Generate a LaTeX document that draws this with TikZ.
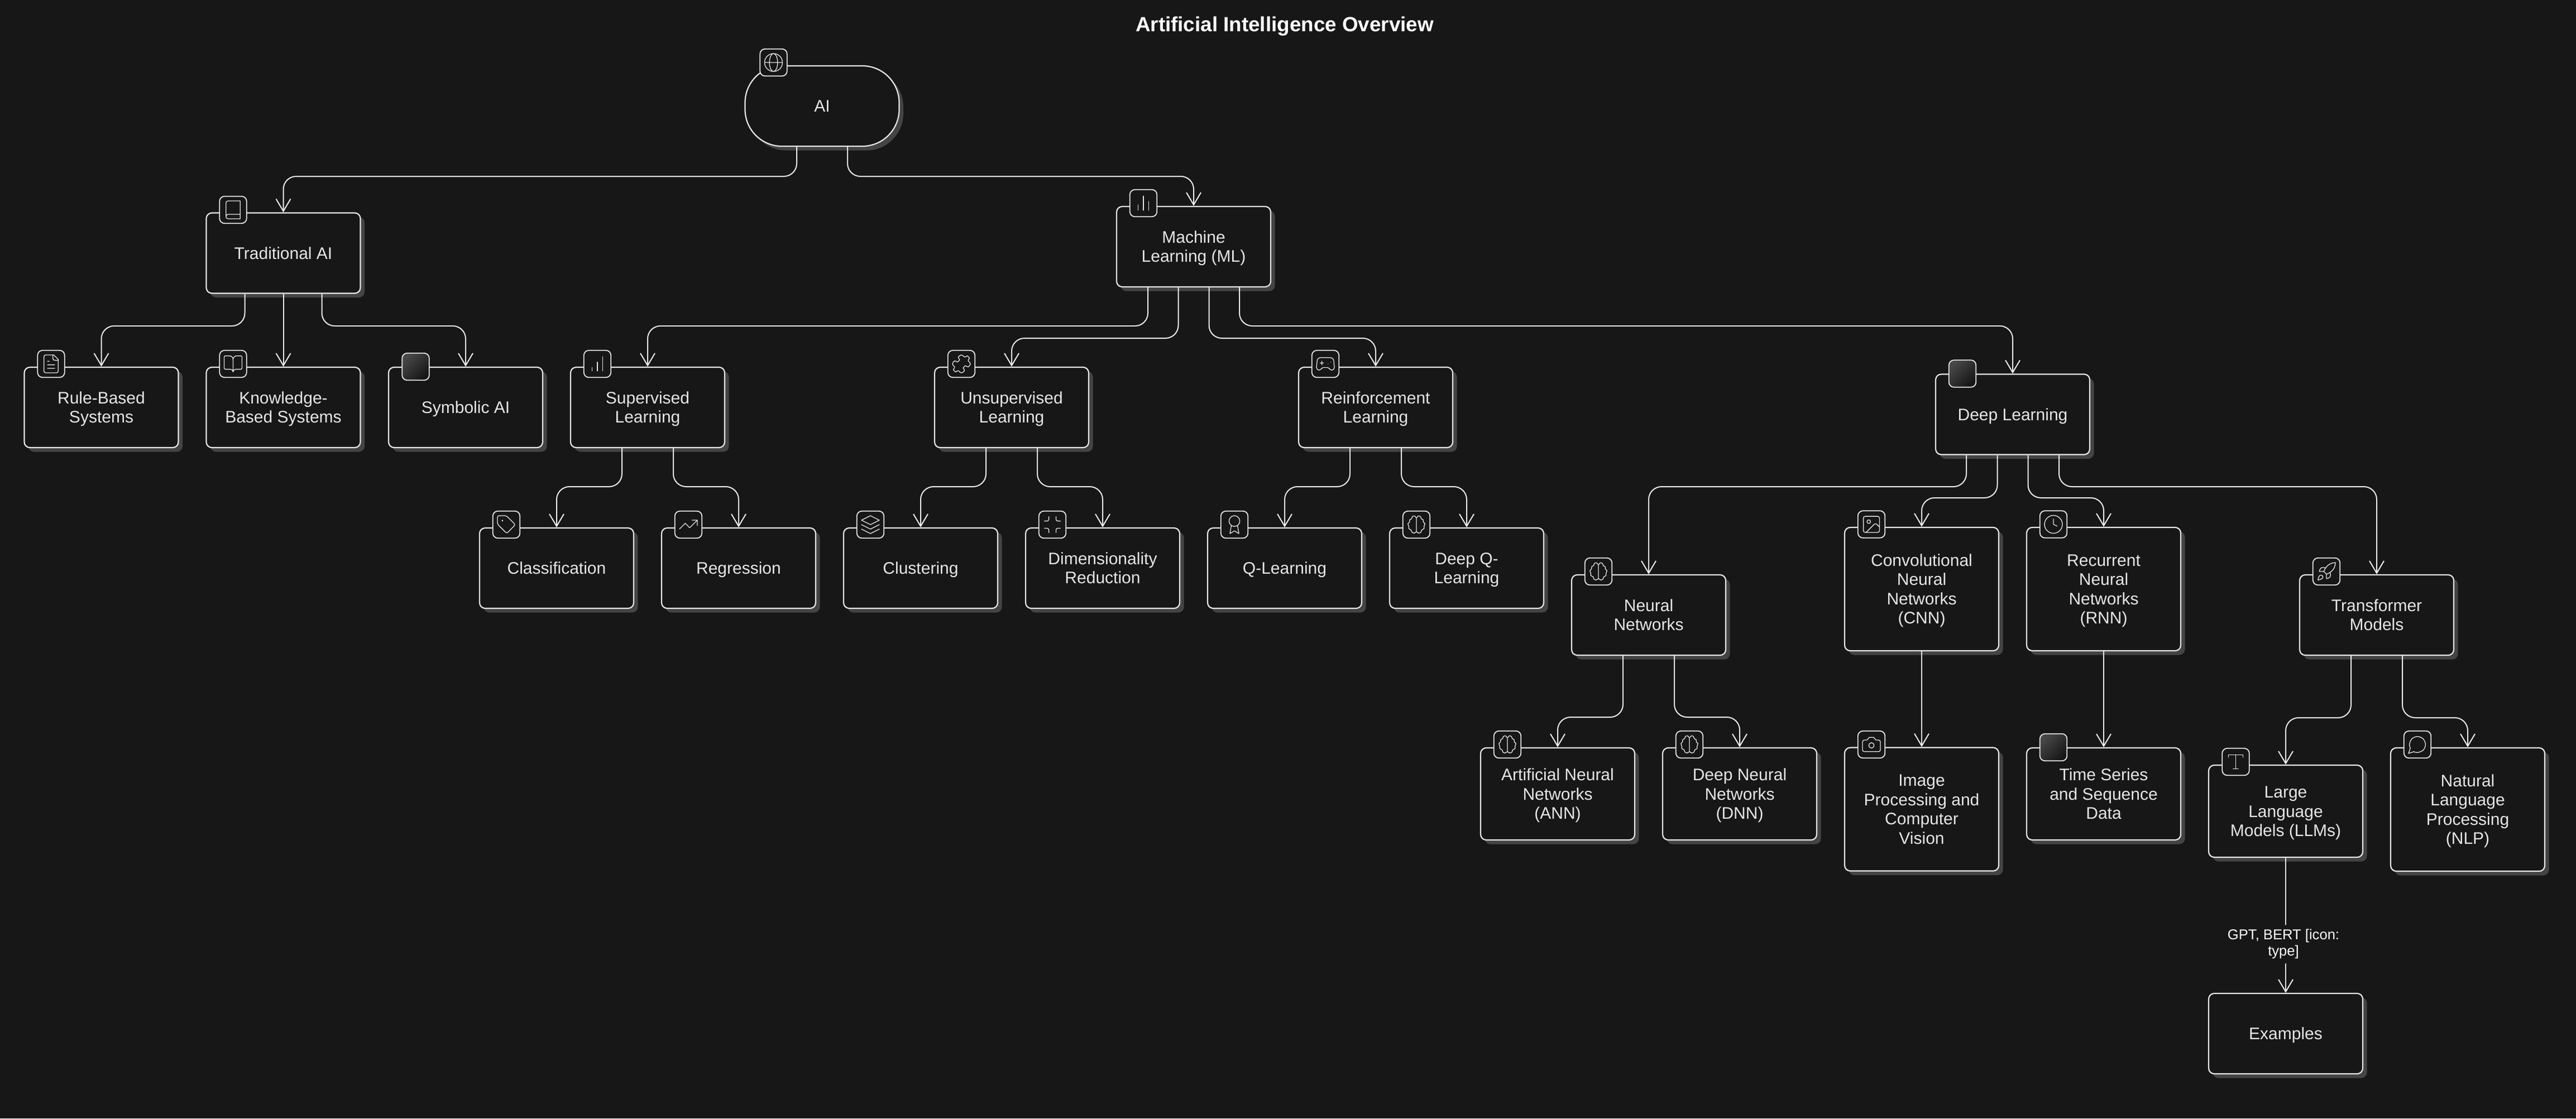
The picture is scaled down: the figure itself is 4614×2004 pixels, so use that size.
\documentclass[tikz,border=0pt]{standalone}
\usepackage{fontspec}
\setmainfont{Liberation Sans}
\usetikzlibrary{arrows.meta,shadows}
\definecolor{bgdark}{HTML}{171717}
\definecolor{ink}{HTML}{E6E6E6}
\definecolor{shade}{HTML}{444444}
\definecolor{phi}{HTML}{484848}
\definecolor{plo}{HTML}{161616}
\tikzset{
  box/.style={draw=ink,fill=bgdark,line width=1.1pt,rounded corners=5pt,text=ink,
    minimum width=138pt,minimum height=72pt,inner sep=0pt,align=center,
    font=\fontsize{15}{17.2}\selectfont,
    execute at begin node={\rule{0pt}{15pt}},
    execute at end node={\rule[-4.5pt]{0pt}{4.5pt}},
    drop shadow={shadow xshift=3.75pt,shadow yshift=-3.75pt,fill=shade,opacity=1}},
  boxM/.style={box,minimum height=82.5pt},
  boxL/.style={box,minimum height=110.5pt},
  boxAI/.style={box,rounded corners=33pt},
  iconb/.style={draw=ink,fill=bgdark,line width=.9pt,rounded corners=4.5pt,minimum size=24.25pt,inner sep=0pt},
  iconblank/.style={iconb,top color=phi,bottom color=plo,shading angle=45},
  link/.style={draw=white!92!black,line width=1pt,rounded corners=11.5pt,-{Straight Barb[length=11pt,width=13pt]}},
  lbl/.style={fill=bgdark,text=white,align=center,inner xsep=2pt,inner ysep=4pt,font=\fontsize{12.8}{14.5}\selectfont},
  titletext/.style={text=white,font=\fontsize{18.4}{20}\selectfont\bfseries},
  glyph/.style={x=.8pt,y=-.8pt,shift={(-12,-12)},draw=ink,line width=.65pt,line cap=round,line join=round},
  gglobe/.pic={\draw[glyph] (12,12) circle[radius=10] (12,12) ellipse[x radius=4.6,y radius=10] (2,12)--(22,12);},
  gbook/.pic={\draw[glyph] (6.5,2)--(20,2)--(20,22)--(6.5,22) .. controls (5,22) and (4,21) .. (4,19.5)--(4,4.5) .. controls (4,3) and (5,2) .. (6.5,2)--cycle (4,19.5) .. controls (4,18) and (5,17) .. (6.5,17)--(20,17);},
  gfile/.pic={\draw[glyph] (15,2)--(6,2) .. controls (4.9,2) and (4,2.9) .. (4,4)--(4,20) .. controls (4,21.1) and (4.9,22) .. (6,22)--(18,22) .. controls (19.1,22) and (20,21.1) .. (20,20)--(20,7)--cycle (14,2)--(14,6) .. controls (14,7.1) and (14.9,8) .. (16,8)--(20,8) (10,9)--(8,9) (16,13)--(8,13) (16,17)--(8,17);},
  gbookopen/.pic={\draw[glyph] (12,7)--(12,21) (3,18) .. controls (2.4,18) and (2,17.6) .. (2,17)--(2,4) .. controls (2,3.4) and (2.4,3) .. (3,3)--(8,3) .. controls (10.2,3) and (12,4.8) .. (12,7) .. controls (12,4.8) and (13.8,3) .. (16,3)--(21,3) .. controls (21.6,3) and (22,3.4) .. (22,4)--(22,17) .. controls (22,17.6) and (21.6,18) .. (21,18)--(15,18) .. controls (13.3,18) and (12,19.3) .. (12,21) .. controls (12,19.3) and (10.7,18) .. (9,18)--cycle;},
  gbars/.pic={\draw[glyph] (18,20)--(18,10) (12,20)--(12,4) (6,20)--(6,14);},
  gbarsup/.pic={\draw[glyph] (12,20)--(12,10) (18,20)--(18,4) (6,20)--(6,16);},
  gpuzzle/.pic={\draw[glyph] plot[smooth cycle,tension=.55] coordinates {(15.39,4.39)(17.07,3.9)(18.5,3)(21,5.5)(20.08,6.93)(19.61,8.61)(21.3,10.3)(22,12)(21.3,13.7)(19.61,15.39)(17.93,14.92)(16.5,14)(14,16.5)(14.92,17.93)(15.39,19.61)(13.7,21.3)(12,22)(10.3,21.3)(8.61,19.61)(6.93,20.08)(5.5,21)(3,18.5)(3.92,17.07)(4.39,15.39)(2.7,13.7)(2,12)(2.7,10.3)(4.39,8.61)(6.07,9.08)(7.5,10)(10,7.5)(9.08,6.07)(8.61,4.39)(10.3,2.7)(12,2)(13.7,2.7)};},
  gtag/.pic={\draw[glyph,rounded corners=1.5pt] (2,2)--(12,2)--(22,12)--(12.5,21.9)--(2,11.5)--cycle; \draw[glyph] (7.5,7.5) circle[radius=.5];},
  gtrend/.pic={\draw[glyph] (22,7)--(13.5,15.5)--(8.5,10.5)--(2,17) (16,7)--(22,7)--(22,13);},
  glayers/.pic={\draw[glyph] (12,2)--(2,7)--(12,12)--(22,7)--cycle (2,17)--(12,22)--(22,17) (2,12)--(12,17)--(22,12);},
  gshrink/.pic={\draw[glyph] (8,3)--(8,6) .. controls (8,7.1) and (7.1,8) .. (6,8)--(3,8) (21,8)--(18,8) .. controls (16.9,8) and (16,7.1) .. (16,6)--(16,3) (3,16)--(6,16) .. controls (7.1,16) and (8,16.9) .. (8,18)--(8,21) (16,21)--(16,18) .. controls (16,16.9) and (16.9,16) .. (18,16)--(21,16);},
  ggame/.pic={\draw[glyph] (6,11)--(10,11) (8,9)--(8,13) (15,12)--(15.01,12) (18,10)--(18.01,10) (17.32,5)--(6.68,5) .. controls (4.6,5) and (2.95,6.5) .. (2.7,8.6)--(2,16) .. controls (2,17.7) and (3.3,19) .. (5,19) .. controls (6,19) and (6.5,18.5) .. (7,18)--(8.4,16.6) .. controls (8.8,16.2) and (9.3,16) .. (9.83,16)--(14.17,16) .. controls (14.7,16) and (15.2,16.2) .. (15.6,16.6)--(17,18) .. controls (17.5,18.5) and (18,19) .. (19,19) .. controls (20.7,19) and (22,17.7) .. (22,16)--(21.3,8.6) .. controls (21.05,6.5) and (19.4,5) .. (17.32,5)--cycle;},
  gaward/.pic={\draw[glyph] (12,8) circle[radius=6] (15.48,12.89)--(17,22)--(12,19)--(7,22)--(8.52,12.89);},
  gbrain/.pic={\draw[glyph] plot[smooth cycle,tension=.6] coordinates {(12,4.5)(14,2.3)(16.5,3)(17.5,5.5)(19.5,6.5)(19.7,9)(21.5,11)(20.5,14)(20.5,16.5)(18,18)(17,20.5)(14.5,21.5)(12,20)(9.5,21.5)(7,20.5)(6,18)(3.5,16.5)(3.5,14)(2.5,11)(4.3,9)(4.5,6.5)(6.5,5.5)(7.5,3)(10,2.3)} (12,4.5)--(12,20);},
  gimage/.pic={\draw[glyph,rounded corners=1.6pt] (3,3) rectangle (21,21); \draw[glyph] (9,9) circle[radius=2] (21,15)--(17.9,11.9) .. controls (17.1,11.1) and (15.9,11.1) .. (15.1,11.9)--(6,21);},
  gclock/.pic={\draw[glyph] (12,12) circle[radius=10] (12,6)--(12,12)--(16,14);},
  grocket/.pic={\draw[glyph] (4.5,16.5) .. controls (3,17.76) and (2.5,21.5) .. (2.5,21.5) .. controls (2.5,21.5) and (6.24,21) .. (7.5,19.5) .. controls (8.21,18.66) and (8.2,17.37) .. (7.41,16.59) .. controls (6.6,15.8) and (5.34,15.8) .. (4.5,16.5)--cycle
    (12,15)--(9,12) .. controls (9.5,10.6) and (10.2,9.3) .. (11,8.05) .. controls (13.3,4.4) and (17.7,2) .. (22,2) .. controls (22,4.72) and (21.22,9.5) .. (16,13) .. controls (14.7,13.8) and (13.4,14.5) .. (12,15)--cycle
    (9,12)--(4,12) .. controls (4,12) and (4.55,8.97) .. (6,8) .. controls (7.62,6.92) and (11,8) .. (11,8)
    (12,15)--(12,20) .. controls (12,20) and (15.03,19.45) .. (16,18) .. controls (17.08,16.38) and (16,13) .. (16,13);},
  gcamera/.pic={\draw[glyph] (14.5,4)--(9.5,4)--(7,7)--(4,7) .. controls (2.9,7) and (2,7.9) .. (2,9)--(2,18) .. controls (2,19.1) and (2.9,20) .. (4,20)--(20,20) .. controls (21.1,20) and (22,19.1) .. (22,18)--(22,9) .. controls (22,7.9) and (21.1,7) .. (20,7)--(17,7)--cycle (12,13) circle[radius=3];},
  gtype/.pic={\draw[glyph] (4,7)--(4,4)--(20,4)--(20,7) (9,20)--(15,20) (12,4)--(12,20);},
  gbubble/.pic={\draw[glyph] (2,22)--plot[smooth,tension=.55] coordinates {(7.9,20)(12,21)(18.36,18.36)(21,12)(18.36,5.64)(12,3)(5.64,5.64)(3,12)(4,16.1)}--cycle;},
}
\newcommand{\elbow}[4]{\draw[link] ([xshift=#2]#1.south) -- ([xshift=#2]#1.south |- 0,#3) -- (#4.north |- 0,#3) -- (#4.north);}
\newcommand{\stacked}[1]{\rule{0pt}{15pt}#1\rule[-4.5pt]{0pt}{4.5pt}}
\begin{document}
\begin{tikzpicture}[x=.5pt,y=-.5pt]
\useasboundingbox (0,0) rectangle (4614,2004);
\fill[bgdark] (0,0) rectangle (4614,2004);
\node[titletext] (title) at (2301,47) {Artificial Intelligence Overview};
% boxes
\node[boxAI] (ai) at (1472.5,190) {AI};
\node[box] (trad) at (507.5,453.5) {Traditional AI};
\node[box] (ml) at (2138,442) {\stacked{Machine\\Learning (ML)}};
\node[box] (rule) at (181.5,730) {\stacked{Rule-Based\\Systems}};
\node[box] (know) at (507.5,730) {\stacked{Knowledge-\\Based Systems}};
\node[box] (symb) at (834,730) {Symbolic AI};
\node[box] (sup) at (1160,730) {\stacked{Supervised\\Learning}};
\node[box] (unsup) at (1812,730) {\stacked{Unsupervised\\Learning}};
\node[box] (rein) at (2464,730) {\stacked{Reinforcement\\Learning}};
\node[box] (deep) at (3605,742.5) {Deep Learning};
\node[box] (class) at (997,1018) {Classification};
\node[box] (regr) at (1323,1018) {Regression};
\node[box] (clust) at (1649,1018) {Clustering};
\node[box] (dim) at (1975,1018) {\stacked{Dimensionality\\Reduction}};
\node[box] (qlearn) at (2301,1018) {Q-Learning};
\node[box] (dq) at (2627,1018) {\stacked{Deep Q-\\Learning}};
\node[box] (nn) at (2953,1102) {\stacked{Neural\\Networks}};
\node[boxL] (cnn) at (3442,1055.5) {\stacked{Convolutional\\Neural\\Networks\\(CNN)}};
\node[boxL] (rnn) at (3768,1055.5) {\stacked{Recurrent\\Neural\\Networks\\(RNN)}};
\node[box] (trans) at (4257,1102) {\stacked{Transformer\\Models}};
\node[boxM] (ann) at (2790,1422.5) {\stacked{Artificial Neural\\Networks\\(ANN)}};
\node[boxM] (dnn) at (3116,1422.5) {\stacked{Deep Neural\\Networks\\(DNN)}};
\node[boxL] (img) at (3442,1450) {\stacked{Image\\Processing and\\Computer\\Vision}};
\node[boxM] (ts) at (3768,1422.5) {\stacked{Time Series\\and Sequence\\Data}};
\node[boxM] (llm) at (4094,1453.5) {\stacked{Large\\Language\\Models (LLMs)}};
\node[boxL] (nlp) at (4420,1450.5) {\stacked{Natural\\Language\\Processing\\(NLP)}};
\node[box] (examples) at (4094,1852) {Examples};
% connectors
\elbow{ai}{-22.75pt}{316}{trad}
\elbow{ai}{22.75pt}{316}{ml}
\elbow{trad}{-34.5pt}{584}{rule}
\draw[link] (trad.south) -- (know.north);
\elbow{trad}{34.5pt}{584}{symb}
\elbow{ml}{-41pt}{584}{sup}
\elbow{ml}{-13.75pt}{606}{unsup}
\elbow{ml}{13.75pt}{606}{rein}
\elbow{ml}{41pt}{584}{deep}
\elbow{sup}{-23pt}{872}{class}
\elbow{sup}{23pt}{872}{regr}
\elbow{unsup}{-23pt}{872}{clust}
\elbow{unsup}{23pt}{872}{dim}
\elbow{rein}{-23pt}{872}{qlearn}
\elbow{rein}{23pt}{872}{dq}
\elbow{deep}{-41.5pt}{872}{nn}
\elbow{deep}{-13.75pt}{892}{cnn}
\elbow{deep}{13.75pt}{892}{rnn}
\elbow{deep}{41.5pt}{872}{trans}
\elbow{nn}{-23pt}{1285}{ann}
\elbow{nn}{23pt}{1285}{dnn}
\draw[link] (cnn.south) -- (img.north);
\draw[link] (rnn.south) -- (ts.north);
\elbow{trans}{-23pt}{1286}{llm}
\elbow{trans}{23pt}{1286}{nlp}
\draw[link] (llm.south) -- node[lbl,pos=.64,xshift=-2pt] (gptlabel) {GPT, BERT [icon:\\type]} (examples.north);
% icons
\node[iconb] (iai) at (1385.5,112) {}; \pic at (iai) {gglobe};
\node[iconb] (itrad) at (417.5,376) {}; \pic at (itrad) {gbook};
\node[iconb] (iml) at (2048,364) {}; \pic at (iml) {gbars};
\node[iconb] (irule) at (91.5,652) {}; \pic at (irule) {gfile};
\node[iconb] (iknow) at (417.5,652) {}; \pic at (iknow) {gbookopen};
\node[iconblank] (isymb) at (744.5,657) {};
\node[iconb] (isup) at (1070,652) {}; \pic at (isup) {gbarsup};
\node[iconb] (iunsup) at (1722,652) {}; \pic at (iunsup) {gpuzzle};
\node[iconb] (irein) at (2374,652) {}; \pic at (irein) {ggame};
\node[iconblank] (ideep) at (3515,669.5) {};
\node[iconb] (iclass) at (907,940) {}; \pic at (iclass) {gtag};
\node[iconb] (iregr) at (1233,940) {}; \pic at (iregr) {gtrend};
\node[iconb] (iclust) at (1559,940) {}; \pic at (iclust) {glayers};
\node[iconb] (idim) at (1885,940) {}; \pic at (idim) {gshrink};
\node[iconb] (iq) at (2211,940) {}; \pic at (iq) {gaward};
\node[iconb] (idq) at (2537,940) {}; \pic at (idq) {gbrain};
\node[iconb] (inn) at (2863,1024) {}; \pic at (inn) {gbrain};
\node[iconb] (icnn) at (3352,939.5) {}; \pic at (icnn) {gimage};
\node[iconb] (irnn) at (3678,939.5) {}; \pic at (irnn) {gclock};
\node[iconb] (itrans) at (4167,1024) {}; \pic at (itrans) {grocket};
\node[iconb] (iann) at (2700,1334) {}; \pic at (iann) {gbrain};
\node[iconb] (idnn) at (3026,1334) {}; \pic at (idnn) {gbrain};
\node[iconb] (iimg) at (3352,1334) {}; \pic at (iimg) {gcamera};
\node[iconblank] (its) at (3678,1339) {};
\node[iconb] (illm) at (4004.5,1365) {}; \pic at (illm) {gtype};
\node[iconb] (inlp) at (4330,1334) {}; \pic at (inlp) {gbubble};
\end{tikzpicture}
\end{document}
